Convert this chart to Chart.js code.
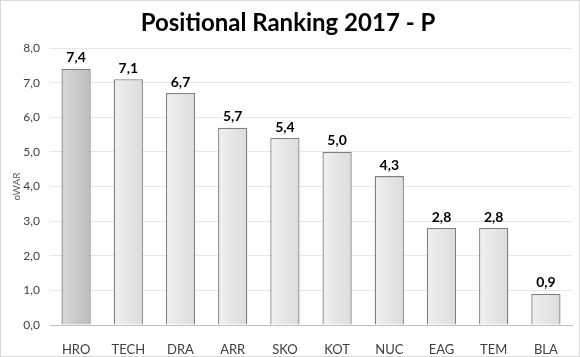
<!DOCTYPE html>
<html><head><meta charset="utf-8">
<script src="https://cdn.jsdelivr.net/npm/chart.js@4/dist/chart.umd.min.js"></script>
<style>html,body{margin:0;padding:0;background:#fff}#wrap{width:580px;height:357px;position:relative}</style>
</head><body><div id="wrap"><canvas id="c" width="580" height="357"></canvas></div>
<script>
const categories = ["HRO","TECH","DRA","ARR","SKO","KOT","NUC","EAG","TEM","BLA"];
const values = [7.4,7.1,6.7,5.7,5.4,5.0,4.3,2.8,2.8,0.9];
const yTicks = [0,1,2,3,4,5,6,7,8];
const titleText = "Positional Ranking 2017 - P";
const yTitle = "oWAR";
const FONT = "Lato, 'Open Sans', sans-serif";
const fmt = v => v.toFixed(1).replace('.', ',');

function barFill(ctx){
  const chart = ctx.chart;
  const i = ctx.dataIndex;
  const xs = chart.scales && chart.scales.x;
  const hi = i === 0;
  if(!xs || !chart.chartArea) return hi ? '#cccccc' : '#e6e6e6';
  const cx = xs.getPixelForValue(i);
  const w = (xs.width / categories.length) * 0.56;
  const g = chart.ctx.createLinearGradient(cx - w/2, 0, cx + w/2, 0);
  if(hi){ g.addColorStop(0,'#d8d8d8'); g.addColorStop(1,'#bcbcbc'); }
  else { g.addColorStop(0,'#f0f0f0'); g.addColorStop(1,'#dcdcdc'); }
  return g;
}

const deco = {
  id:'deco',
  afterDraw(chart){
    const c = chart.ctx;
    c.save();
    c.fillStyle = '#000';
    c.font = "bold 24px " + FONT;
    c.textAlign = 'center'; c.textBaseline = 'middle';
    c.fillText(titleText, 288, 23);
    const meta = chart.getDatasetMeta(0);
    c.font = "bold 14px " + FONT;
    c.textBaseline = 'bottom';
    meta.data.forEach((b, i) => {
      c.fillText(fmt(values[i]), b.x, b.y - 4);
    });
    c.strokeStyle = '#d9d9d9'; c.lineWidth = 1;
    c.strokeRect(0.5, 0.5, 579, 356);
    c.restore();
  }
};

new Chart(document.getElementById('c'), {
  type:'bar',
  data:{ labels: categories, datasets:[{ data: values, backgroundColor: barFill, borderColor:'#7f7f7f', borderWidth:1.3, barPercentage:0.56, categoryPercentage:1 }]},
  options:{
    responsive:false, animation:false, devicePixelRatio:1,
    layout:{ padding:{ top:48, right:8, left:0, bottom:0 } },
    plugins:{ legend:{display:false}, title:{display:false}, tooltip:{enabled:false} },
    scales:{
      x:{
        grid:{ display:false },
        border:{ display:true, color:'#bfbfbf', width:1 },
        ticks:{ color:'#404040', font:{ family:FONT, size:13 }, padding:9 },
        afterFit(s){ s.height = 32; }
      },
      y:{
        min:0, max:8,
        afterBuildTicks(s){ s.ticks = yTicks.map(v => ({value:v})); },
        grid:{ color:'#e6e6e6', drawTicks:false },
        border:{ display:false },
        ticks:{ color:'#404040', font:{ family:FONT, size:12 }, padding:10, callback:v => fmt(v) },
        title:{ display:true, text:yTitle, color:'#595959', font:{ family:FONT, size:10 }, padding:{top:11,bottom:0} },
        afterFit(s){ s.width = 50; }
      }
    }
  },
  plugins:[deco]
});
</script></body></html>
